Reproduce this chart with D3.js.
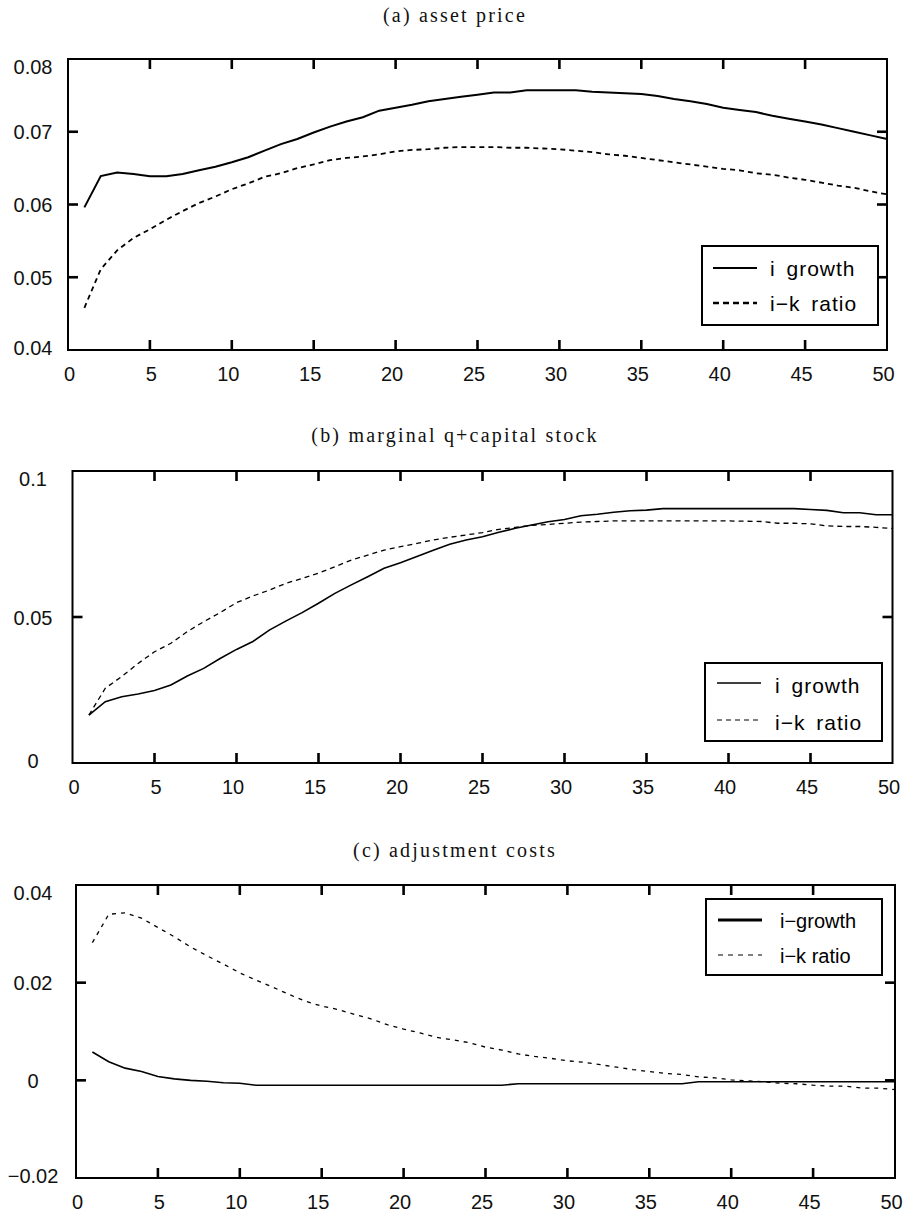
<!DOCTYPE html>
<html>
<head>
<meta charset="utf-8">
<title>investment responses</title>
<script src="https://cdn.jsdelivr.net/npm/d3@7"></script>
<style>
  body { margin: 0; background: #ffffff; }
  .panel-title { font-family: "Liberation Serif", "Times New Roman", serif; font-size: 20px; letter-spacing: 2.2px; fill: #111; }
  .tick text { font-family: "Liberation Sans", Arial, sans-serif; font-size: 20px; fill: #111; }
  .legend text { font-family: "Liberation Sans", Arial, sans-serif; fill: #000; }
</style>
</head>
<body>
<div id="graph"></div>
<script>
// x positions and tick values
var xTicks = [0,5,10,15,20,25,30,35,40,45,50];
var periods = [1,2,3,4,5,6,7,8,9,10,11,12,13,14,15,16,17,18,19,20,21,22,23,24,25,
  26,27,28,29,30,31,32,33,34,35,36,37,38,39,40,41,42,43,44,45,46,47,48,49,50];

// (a) asset price
var assetTicks = [0.04,0.05,0.06,0.07,0.08];
var assetGrowth = [0.0596,0.0639,0.0644,0.0642,0.0639,0.0639,0.0642,0.0647,0.0652,0.0658,
  0.0665,0.0674,0.0683,0.0690,0.0699,0.0707,0.0714,0.0720,0.0729,0.0733,
  0.0737,0.0742,0.0745,0.0748,0.0751,0.0754,0.0754,0.0757,0.0757,0.0757,
  0.0757,0.0755,0.0754,0.0753,0.0752,0.0749,0.0745,0.0742,0.0738,0.0733,
  0.0730,0.0727,0.0722,0.0718,0.0714,0.0710,0.0705,0.0700,0.0695,0.0690];
var assetRatio = [0.0458,0.0511,0.0537,0.0554,0.0566,0.0579,0.0591,0.0602,0.0611,0.0621,
  0.0629,0.0638,0.0643,0.0650,0.0655,0.0661,0.0664,0.0666,0.0669,0.0673,
  0.0675,0.0676,0.0678,0.0679,0.0679,0.0679,0.0678,0.0678,0.0677,0.0676,
  0.0674,0.0672,0.0669,0.0667,0.0664,0.0661,0.0658,0.0655,0.0652,0.0649,
  0.0647,0.0643,0.0641,0.0637,0.0634,0.0630,0.0626,0.0623,0.0618,0.0614];

// (b) marginal q + capital stock
var qTicks = [0,0.05,0.1];
var qGrowth = [0.0164,0.0210,0.0227,0.0236,0.0248,0.0267,0.0298,0.0324,0.0358,0.0389,
  0.0416,0.0455,0.0486,0.0515,0.0547,0.0581,0.0610,0.0638,0.0667,0.0686,
  0.0707,0.0729,0.0749,0.0764,0.0775,0.0790,0.0804,0.0815,0.0826,0.0834,
  0.0847,0.0852,0.0859,0.0864,0.0866,0.0871,0.0871,0.0871,0.0871,0.0871,
  0.0871,0.0871,0.0871,0.0871,0.0868,0.0865,0.0857,0.0857,0.0850,0.0850];
var qRatio = [0.0164,0.0256,0.0296,0.0341,0.0381,0.0410,0.0450,0.0484,0.0515,0.0549,
  0.0572,0.0592,0.0615,0.0632,0.0650,0.0672,0.0695,0.0712,0.0729,0.0741,
  0.0752,0.0764,0.0773,0.0781,0.0789,0.0800,0.0807,0.0814,0.0817,0.0821,
  0.0825,0.0827,0.0829,0.0829,0.0829,0.0829,0.0829,0.0829,0.0829,0.0829,
  0.0828,0.0827,0.0821,0.0821,0.0819,0.0812,0.0810,0.0810,0.0807,0.0803];

// (c) adjustment costs
var adjTicks = [-0.02,0,0.02,0.04];
var adjGrowth = [0.0058,0.0038,0.0025,0.0018,0.0008,0.0003,0.0000,-0.0002,-0.0005,-0.0006,
  -0.0010,-0.0010,-0.0010,-0.0010,-0.0010,-0.0010,-0.0010,-0.0010,-0.0010,-0.0010,
  -0.0010,-0.0010,-0.0010,-0.0010,-0.0010,-0.0010,-0.0007,-0.0007,-0.0007,-0.0007,
  -0.0007,-0.0007,-0.0007,-0.0007,-0.0007,-0.0007,-0.0007,-0.0003,-0.0003,-0.0003,
  -0.0003,-0.0003,-0.0003,-0.0003,-0.0003,-0.0003,-0.0003,-0.0003,-0.0003,-0.0003];
var adjRatio = [0.0282,0.0340,0.0343,0.0332,0.0313,0.0294,0.0273,0.0255,0.0238,0.0220,
  0.0205,0.0191,0.0176,0.0162,0.0152,0.0145,0.0135,0.0126,0.0114,0.0105,
  0.0097,0.0088,0.0083,0.0077,0.0068,0.0062,0.0054,0.0049,0.0045,0.0040,
  0.0037,0.0032,0.0027,0.0022,0.0018,0.0014,0.0012,0.0007,0.0005,0.0001,
  -0.0001,-0.0003,-0.0006,-0.0007,-0.0010,-0.0012,-0.0012,-0.0016,-0.0016,-0.0019];

var w = 906, h = 1214;
var tickLen = 10, tickW = 2.6;

var svg = d3.select("#graph").append("svg")
  .attr("width", w)
  .attr("height", h);

var tickLayer = [];

function drawPanel(p) {
  var yMin = p.yTicks[0], yMax = p.yTicks[p.yTicks.length - 1];
  var x = d3.scaleLinear().domain([0, 50]).range([p.left, p.right]);
  var y = d3.scaleLinear().domain([yMin, yMax]).range([p.bottom, p.top]);
  var fmt = function(d) { return String(+d.toFixed(2)).replace("-", "\u2212"); };

  svg.append("text")
    .attr("class", "panel-title")
    .attr("x", 455)
    .attr("y", p.titleY)
    .attr("text-anchor", "middle")
    .text(p.title);

  var g = svg.append("g");

  // tick labels
  var bottom = g.append("g")
    .attr("transform", "translate(0," + p.bottom + ")")
    .call(d3.axisBottom(x).tickValues(xTicks).tickSize(0).tickPadding(17));
  bottom.selectAll("text").attr("dx", function(d) { return d >= 10 ? -4 : 1; });

  var left = g.append("g")
    .attr("transform", "translate(" + p.left + ",0)")
    .call(d3.axisLeft(y).tickValues(p.yTicks).tickSize(0).tickFormat(fmt));
  left.selectAll("text")
    .attr("x", 33 - p.left)
    .attr("text-anchor", "middle")
    .attr("dy", function(d) { return d === yMax ? "0.72em" : (d === yMin ? "0.2em" : "0.35em"); });

  g.selectAll(".domain").remove();

  // frame
  g.append("rect")
    .attr("x", p.left)
    .attr("y", p.top)
    .attr("width", p.right - p.left)
    .attr("height", p.bottom - p.top)
    .attr("fill", "none")
    .attr("stroke", "#000")
    .attr("stroke-width", 2);

  var line = d3.line()
    .x(function(d, i) { return x(periods[i]); })
    .y(function(d) { return y(d); });

  g.append("path")
    .attr("d", line(p.solid))
    .attr("fill", "none")
    .attr("stroke", "#000")
    .attr("stroke-width", p.solidW);

  g.append("path")
    .attr("d", line(p.dashed))
    .attr("fill", "none")
    .attr("stroke", "#000")
    .attr("stroke-width", p.dashW)
    .attr("stroke-dasharray", p.dash);

  // inward tick marks on all four sides as small filled bars
  xTicks.filter(function(d) { return d > 0 && d < 50; }).forEach(function(d) {
    tickLayer.push({ x: x(d) - tickW / 2, y: p.bottom - tickLen, w: tickW, h: tickLen });
    tickLayer.push({ x: x(d) - tickW / 2, y: p.top, w: tickW, h: tickLen });
  });
  p.yTicks.filter(function(d) { return d > yMin && d < yMax; }).forEach(function(d) {
    tickLayer.push({ x: p.left, y: y(d) - tickW / 2, w: tickLen, h: tickW });
    tickLayer.push({ x: p.right - tickLen, y: y(d) - tickW / 2, w: tickLen, h: tickW });
  });

  // legend
  var L = p.legend;
  var lg = svg.append("g").attr("class", "legend")
    .attr("transform", "translate(" + L.x + "," + L.y + ")");
  lg.append("rect")
    .attr("width", L.w)
    .attr("height", L.h)
    .attr("fill", "#fff")
    .attr("stroke", "#000")
    .attr("stroke-width", 2);
  lg.append("line")
    .attr("x1", L.lx).attr("x2", L.lx + 44)
    .attr("y1", L.r1).attr("y2", L.r1)
    .attr("stroke", "#000").attr("stroke-width", L.sw1);
  lg.append("line")
    .attr("x1", L.lx).attr("x2", L.lx + 44)
    .attr("y1", L.r2).attr("y2", L.r2)
    .attr("stroke", "#000").attr("stroke-width", L.sw2)
    .attr("stroke-dasharray", L.dash);
  [0, 1].forEach(function(i) {
    lg.append("text")
      .attr("x", L.tx).attr("y", (i ? L.r2 : L.r1) + L.tb)
      .style("font-size", L.fs + "px")
      .style("letter-spacing", L.ls + "px")
      .style("word-spacing", L.ws + "px")
      .text(p.names[i]);
  });
}

drawPanel({
  title: "(a) asset price", titleY: 22,
  left: 68, right: 887, top: 59, bottom: 350,
  yTicks: assetTicks,
  solid: assetGrowth, dashed: assetRatio,
  solidW: 2, dashW: 1.8, dash: "5,4",
  names: ["i growth", "i\u2212k ratio"],
  legend: { x: 702, y: 246, w: 176, h: 79, lx: 11, tx: 68, r1: 22, r2: 57, tb: 8,
            sw1: 1.8, sw2: 2.6, dash: "6,4", fs: 21, ls: 1, ws: 4 }
});

drawPanel({
  title: "(b) marginal q+capital stock", titleY: 442,
  left: 72.5, right: 892.5, top: 471, bottom: 763,
  yTicks: qTicks,
  solid: qGrowth, dashed: qRatio,
  solidW: 1.6, dashW: 1.3, dash: "5,4",
  names: ["i growth", "i\u2212k ratio"],
  legend: { x: 705, y: 663, w: 177, h: 78, lx: 12, tx: 70, r1: 20, r2: 57, tb: 10,
            sw1: 1.6, sw2: 1.2, dash: "5,4", fs: 21, ls: 1, ws: 4 }
});

drawPanel({
  title: "(c) adjustment costs", titleY: 857,
  left: 76, right: 895, top: 885, bottom: 1178,
  yTicks: adjTicks,
  solid: adjGrowth, dashed: adjRatio,
  solidW: 1.6, dashW: 1.3, dash: "4,5",
  names: ["i\u2212growth", "i\u2212k ratio"],
  legend: { x: 706, y: 899, w: 176, h: 76, lx: 12, tx: 74, r1: 21, r2: 56, tb: 8,
            sw1: 3, sw2: 1.2, dash: "5,5", fs: 20, ls: 0, ws: 0 }
});

// tick marks drawn last, straight on the svg root
svg.selectAll("rect.tickmark").data(tickLayer).enter().append("rect")
  .attr("class", "tickmark")
  .attr("x", function(d) { return d.x; })
  .attr("y", function(d) { return d.y; })
  .attr("width", function(d) { return d.w; })
  .attr("height", function(d) { return d.h; })
  .attr("fill", "#000");
</script>
</body>
</html>
